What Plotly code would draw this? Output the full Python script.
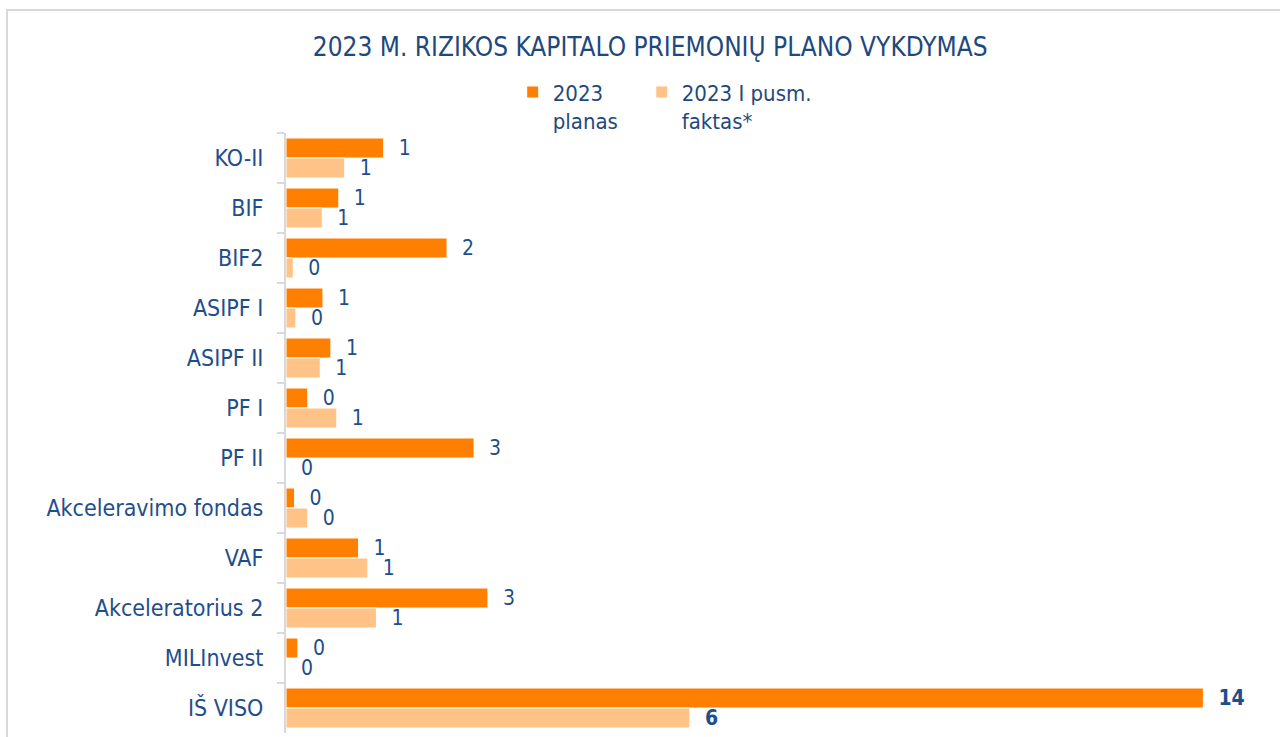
import plotly.graph_objects as go

categories = ["KO-II", "BIF", "BIF2", "ASIPF I", "ASIPF II", "PF I", "PF II",
              "Akceleravimo fondas", "VAF", "Akceleratorius 2", "MILInvest", "IŠ VISO"]
planas = [1.48, 0.80, 2.44, 0.56, 0.68, 0.33, 2.85, 0.13, 1.10, 3.06, 0.18, 13.9]
faktas = [0.89, 0.55, 0.11, 0.15, 0.52, 0.77, 0.0, 0.33, 1.24, 1.37, 0.0, 6.12]
series_names = ["2023<br>planas\u00a0\u00a0\u00a0", "2023 I pusm.<br>faktas*"]
title_text = "2023 M. RIZIKOS KAPITALO PRIEMONIŲ PLANO VYKDYMAS"

FONT = "Liberation Sans Narrow, DejaVu Sans Condensed, Roboto, sans-serif"
NAVY = "#1F497D"
LABEL = "#1F4E8C"
PAD = "\u00a0\u00a0"


def labels(vals):
    out = []
    for i, v in enumerate(vals):
        t = f"{v:.0f}"
        if i == len(vals) - 1:
            t = f"<b>{t}</b>"
        out.append(PAD + t)
    return out


fig = go.Figure()
fig.add_trace(go.Bar(
    y=categories, x=planas, orientation="h", name=series_names[0],
    marker=dict(color="#FF7F00", line=dict(color="white", width=1)),
    text=labels(planas), textposition="outside", cliponaxis=False, constraintext="none",
    textfont=dict(color=LABEL, size=21, family=FONT),
))
fig.add_trace(go.Bar(
    y=categories, x=faktas, orientation="h", name=series_names[1],
    marker=dict(color="#FFC388", line=dict(color="white", width=1)),
    text=labels(faktas), textposition="outside", cliponaxis=False, constraintext="none",
    textfont=dict(color=LABEL, size=21, family=FONT),
))

fig.update_layout(
    width=1280, height=737,
    paper_bgcolor="white", plot_bgcolor="white",
    margin=dict(l=286, r=4, t=133, b=4),
    barmode="group", bargap=0.2, bargroupgap=0,
    font=dict(family=FONT, color=NAVY),
    title=dict(text=title_text, x=0.508, xanchor="center", y=0.936, yanchor="middle",
               font=dict(size=26, color=NAVY, family=FONT)),
    legend=dict(orientation="h", x=0.229, xanchor="left", y=1.103, yanchor="top",
                font=dict(size=22, color=NAVY, family=FONT), valign="top",
                traceorder="normal", itemwidth=30),
    showlegend=True,
    uniformtext=dict(mode=False),
    shapes=[dict(type="rect", xref="paper", yref="paper",
                 x0=-279 / 990, x1=1.2, y0=-0.2, y1=1 + 123 / 600,
                 line=dict(color="#D9D9D9", width=2), fillcolor="rgba(0,0,0,0)", layer="below")],
)
fig.update_xaxes(range=[0, 15], visible=False, showgrid=False, zeroline=False)
fig.update_yaxes(autorange="reversed", showline=True, linecolor="#D9D9D9", linewidth=2,
                 ticks="outside", tickson="boundaries", ticklen=7, tickcolor="#D9D9D9",
                 tickwidth=2, showgrid=False,
                 tickfont=dict(size=23, color=LABEL, family=FONT), ticklabelstandoff=16)

fig.write_html("out.html", config={"displayModeBar": False},
               post_script="document.body.style.margin='0px';")
